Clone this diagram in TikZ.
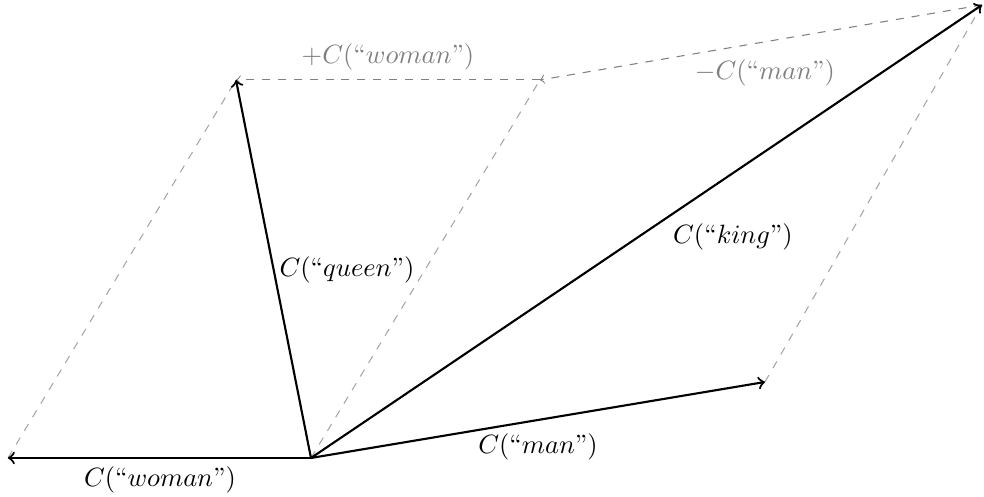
\documentclass[tikz,border=0pt]{standalone}
\usetikzlibrary{positioning}
\begin{document}
\begin{tikzpicture}
        \useasboundingbox (-4.130,-0.518) rectangle (8.938,6.082);
        \coordinate (O) at (0,0);
        \coordinate (W) at (-4.024,0);
        \coordinate (M) at (6.029,1.009);
        \coordinate (K) at (8.911,6.016);
        \coordinate (KM) at (3.041,5.020);
        \coordinate (Q) at (-0.996,5.020);
        
        % helper lines
        \draw[dashed, gray!70] (W) -- (Q);
        \draw[dashed, gray!70] (O) -- (KM);
        \draw[dashed, gray!70] (M) -- (K);
        \draw[->, dashed, gray] (K) -- (KM);
        \draw[->, dashed, gray] (KM) -- (Q);
        \node[gray] (lplus) at (1.023,5.325) {$+C($``$woman$''$)$};
        \node[gray] (lminus) at (6.029,5.113) {$-C($``$man$''$)$};
        
        % word vectors
        \draw[->, thick] (O) -- (W);
        \draw[->, thick] (O) -- (M);
        \draw[->, thick] (O) -- (K);
        \draw[->, thick] (O) -- (Q);
        \node (lwoman) at (-2.005,-0.292) {$C($``$woman$''$)$};
        \node (lman) at (3.015,0.146) {$C($``$man$''$)$};
        \node (lking) at (5.604,2.935) {$C($``$king$''$)$};
        \node (lqueen) at (0.478,2.497) {$C($``$queen$''$)$};
    \end{tikzpicture}
\end{document}
